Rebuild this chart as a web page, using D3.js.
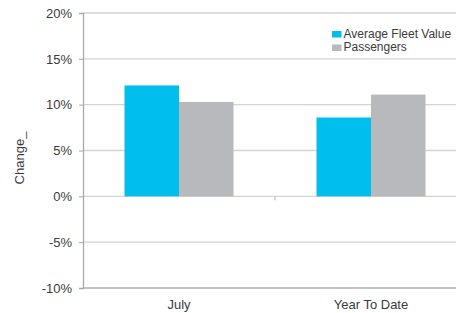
<!DOCTYPE html>
<html>
<head>
<meta charset="utf-8">
<script src="https://cdn.jsdelivr.net/npm/d3@7"></script>
<style>
  body { margin: 0; background: #fff; }
  text { font-family: "Liberation Sans", Arial, sans-serif; fill: #3a3a3a; }
</style>
</head>
<body>
<svg id="chart" width="456" height="313"></svg>
<script>
var categories = ["July", "Year To Date"];
var seriesNames = ["Average Fleet Value", "Passengers"];
var fleetValue = [12.1, 8.6];
var passengers = [10.3, 11.1];
var yTicks = [-10, -5, 0, 5, 10, 15, 20];
var colors = ["#00bfef", "#b8b9bc"];

var data = categories.map(function(c, i) {
  return { category: c, values: [fleetValue[i], passengers[i]] };
});

var margin = {top: 13, right: -11, bottom: 25, left: 83};
var svg = d3.select("#chart"),
    width = 456 - margin.left - margin.right,
    height = 313 - margin.top - margin.bottom,
    g = svg.append("g").attr("transform", "translate(" + margin.left + "," + margin.top + ")");

var x = d3.scaleBand().domain(categories).range([0, width]);
var x1 = d3.scaleBand().domain(seriesNames).range([0, 109]);
var y = d3.scaleLinear().domain([-10, 20]).range([height, 0]);

// gridlines
g.selectAll(".grid")
  .data(yTicks)
  .enter().append("line")
    .attr("class", "grid")
    .attr("x1", 0).attr("x2", width)
    .attr("y1", function(d) { return y(d); })
    .attr("y2", function(d) { return y(d); })
    .attr("stroke", function(d) { return d == -10 ? "#b0b0b0" : "#d4d4d4"; })
    .attr("stroke-width", 1.3);

// bars
var group = g.selectAll(".group")
  .data(data)
  .enter().append("g")
    .attr("class", "group")
    .attr("transform", function(d) { return "translate(" + (x(d.category) + (x.bandwidth() - 109) / 2) + ",0)"; });

group.selectAll("rect")
  .data(function(d) { return d.values.map(function(v, i) { return {key: seriesNames[i], value: v, i: i}; }); })
  .enter().append("rect")
    .attr("x", function(d) { return x1(d.key); })
    .attr("width", x1.bandwidth())
    .attr("y", function(d) { return y(Math.max(0, d.value)); })
    .attr("height", function(d) { return Math.abs(y(d.value) - y(0)); })
    .attr("fill", function(d) { return colors[d.i]; });

// y axis
var yAxis = g.append("g")
  .call(d3.axisLeft(y).tickValues(yTicks).tickSize(4).tickPadding(7).tickFormat(function(d) { return d + "%"; }));
yAxis.select(".domain").attr("stroke", "#a8a8a8").attr("stroke-width", 1.3);
yAxis.selectAll(".tick line").attr("stroke", "#a8a8a8");
yAxis.selectAll(".tick text").style("font-size", "13px").attr("fill", "#3a3a3a");

// category divider tick on zero line
g.append("line")
  .attr("x1", x(categories[1])).attr("x2", x(categories[1]))
  .attr("y1", y(0)).attr("y2", y(0) + 4)
  .attr("stroke", "#b0b0b0");

// x labels
g.selectAll(".xlabel")
  .data(categories)
  .enter().append("text")
    .attr("class", "xlabel")
    .attr("x", function(d) { return x(d) + x.bandwidth() / 2; })
    .attr("y", height + 21)
    .attr("text-anchor", "middle")
    .style("font-size", "13px")
    .text(function(d) { return d; });

// y title
svg.append("text")
  .attr("transform", "translate(24,158) rotate(-90)")
  .attr("text-anchor", "middle")
  .style("font-size", "13px")
  .text("Change_");

// legend
var legend = svg.selectAll(".legend")
  .data(seriesNames)
  .enter().append("g")
    .attr("class", "legend")
    .attr("transform", function(d, i) { return "translate(332," + (37.5 + i * 13.5) + ")"; });

legend.append("rect")
  .attr("y", -6.5)
  .attr("width", 9.5).attr("height", 6.5)
  .attr("fill", function(d, i) { return colors[i]; });

legend.append("text")
  .attr("x", 11.5)
  .attr("y", 0)
  .style("font-size", "12px")
  .text(function(d) { return d; });
</script>
</body>
</html>
